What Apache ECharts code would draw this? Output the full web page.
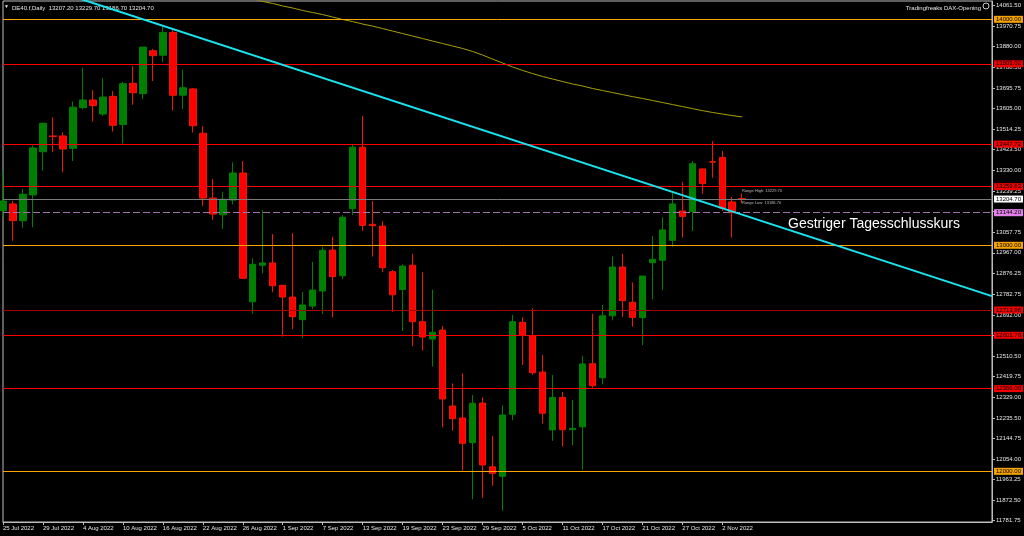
<!DOCTYPE html>
<html><head><meta charset="utf-8">
<script src="https://cdn.jsdelivr.net/npm/echarts@6/dist/echarts.min.js"></script>
<style>html,body{margin:0;padding:0;background:#000;}#c{width:1024px;height:536px;}</style>
</head><body><div id="c"></div>
<script>
// ---- data ----
const dates = [
 '25 Jul 2022','26 Jul 2022','27 Jul 2022','28 Jul 2022','29 Jul 2022',
 '1 Aug 2022','2 Aug 2022','3 Aug 2022','4 Aug 2022','5 Aug 2022','8 Aug 2022','9 Aug 2022','10 Aug 2022','11 Aug 2022','12 Aug 2022',
 '15 Aug 2022','16 Aug 2022','17 Aug 2022','18 Aug 2022','19 Aug 2022','22 Aug 2022','23 Aug 2022','24 Aug 2022','25 Aug 2022','26 Aug 2022',
 '29 Aug 2022','30 Aug 2022','31 Aug 2022','1 Sep 2022','2 Sep 2022','5 Sep 2022','6 Sep 2022','7 Sep 2022','8 Sep 2022','9 Sep 2022',
 '12 Sep 2022','13 Sep 2022','14 Sep 2022','15 Sep 2022','16 Sep 2022','19 Sep 2022','20 Sep 2022','21 Sep 2022','22 Sep 2022','23 Sep 2022',
 '26 Sep 2022','27 Sep 2022','28 Sep 2022','29 Sep 2022','30 Sep 2022','3 Oct 2022','4 Oct 2022','5 Oct 2022','6 Oct 2022','7 Oct 2022',
 '10 Oct 2022','11 Oct 2022','12 Oct 2022','13 Oct 2022','14 Oct 2022','17 Oct 2022','18 Oct 2022','19 Oct 2022','20 Oct 2022','21 Oct 2022',
 '24 Oct 2022','25 Oct 2022','26 Oct 2022','27 Oct 2022','28 Oct 2022','31 Oct 2022','1 Nov 2022','2 Nov 2022','3 Nov 2022','4 Nov 2022'
];
const opens  = [13153,13183,13109,13223,13414,13484,13484,13429,13609,13643,13581,13659,13534,13717,13671,13861,13841,13942,13664,13692,13496,13209,13135,13200,13320,
 12750,12912,12922,12823,12771,12671,12731,12798,12979,12865,13162,13434,13093,13085,12883,12804,12912,12662,12585,12625,12289,12236,12127,12302,12020,
 11978,12252,12659,12600,12439,12183,12327,12184,12197,12476,12414,12688,12904,12748,12680,12923,12934,13022,13152,13149,13338,13370,13389,13192,13207.2];
const closes = [13196,13109,13226,13431,13540,13481,13426,13611,13643,13618,13656,13531,13715,13675,13877,13839,13942,13664,13697,13529,13209,13138,13204,13320,12854,
 12916,12922,12821,12771,12684,12736,12802,12978,12861,13124,13434,13088,13087,12901,12781,12908,12662,12594,12615,12320,12233,12124,12301,12028,11991,
 12249,12662,12602,12436,12257,12327,12184,12190,12475,12379,12688,12904,12755,12681,12864,12938,13068,13183,13128,13361,13273,13368,13164,13144.2,13204.7];
const lows   = [13125,13020,13078,13080,13330,13412,13323,13373,13602,13547,13572,13503,13451,13622,13647,13727,13811,13597,13603,13500,13175,13113,13073,13181,12854,
 12697,12876,12792,12596,12628,12590,12718,12696,12681,12851,13134,13065,12950,12881,12706,12621,12554,12534,12463,12195,12180,12003,11876,11882,11936,
 11826,12226,12470,12427,12211,12135,12109,12115,12007,12370,12385,12668,12683,12640,12559,12761,12801,12994,13034,13063,13228,13299,13152,13034,13186.7];
const highs  = [13329,13196,13249,13442,13542,13566,13500,13637,13786,13687,13740,13683,13723,13793,13877,13869,13967,13954,13777,13696,13527,13293,13237,13367,13373,
 12942,13155,13050,12823,13054,12793,12926,12992,13038,13133,13447,13573,13196,13107,12891,12916,12962,12881,12804,12643,12389,12434,12338,12327,12156,
 12292,12692,12681,12721,12515,12426,12351,12315,12511,12697,12736,12950,12963,12836,12864,13041,13124,13235,13281,13373,13340,13461,13417,13214,13229.7];
// moving average (olive line), null where above the chart / not drawn
const maLine = [null,null,null,null,null,null,null,null,null,null,null,null,null,null,null,null,null,null,null,null,null,null,null,null,14101,
 14090,14079,14070,14059,14050,14039,14030,14021,14010,13999,13990,13979,13970,13959,13948,13937,13926,13915,13904,13893,13882,13871,13858,13842,13824,
 13807,13789,13774,13760,13747,13736,13725,13714,13705,13694,13685,13676,13667,13658,13650,13641,13632,13623,13614,13605,13596,13588,13581,13574,13568];
const trendLine = [[0,14202],[99,12775]];
const orangeLevels = [14000.00, 13000.00, 12000.00];
const redLevels = [13803.02, 13447.72, 13259.63, 12601.79, 12366.00];
const darkRedLevels = [12713.96];
const bidLevel = [13204.70];
const prevCloseLevel = [13144.20];
const yTicks = [14061.50,13970.75,13880.00,13788.50,13695.75,13605.00,13514.25,13423.50,13330.00,13239.25,13148.50,13057.75,12967.00,
 12876.25,12782.75,12692.00,12601.25,12510.50,12419.75,12329.00,12235.50,12144.75,12054.00,11963.25,11872.50,11781.75];
const headerText = 'DE40.f,Daily  13207.20 13229.70 13186.70 13204.70';
const brandText = 'Tradingfreaks DAX-Opening';
const noteText = 'Gestriger Tagesschlusskurs';
const rangeTexts = ['Range High: 13229.70', 'Range Low: 13186.70'];

// ---- build ----
const slots = 100;
const categories = dates.concat(new Array(slots - dates.length).fill(''));
const candles = opens.map((o, i) => [o, closes[i], lows[i], highs[i]]);
const showIdx = (i) => i < dates.length && i % 4 === 0;
const FONT = 'Liberation Sans';

function levelSeries(values, line, bg, dash, z) {
  return {
    type: 'line', data: [], z: z, silent: true,
    markLine: {
      symbol: 'none', silent: true, animation: false, precision: 2,
      lineStyle: {color: line, width: 1, type: dash || 'solid', opacity: 1},
      emphasis: {disabled: true},
      label: {show: true, position: 'end', distance: 2, formatter: p => Number(p.value).toFixed(2),
        backgroundColor: bg, color: '#000', fontSize: 6, fontFamily: FONT, padding: [1, 2, 0, 2]},
      data: values.map(v => ({yAxis: v}))
    }
  };
}

const chart = echarts.init(document.getElementById('c'), null, {renderer: 'canvas'});
chart.setOption({
  backgroundColor: '#000',
  animation: false,
  grid: {left: 2, right: 32, top: 1, bottom: 14, show: true, borderColor: '#bdbdbd', borderWidth: 1},
  xAxis: {
    type: 'category', data: categories, boundaryGap: false,
    axisLine: {show: true, lineStyle: {color: '#bdbdbd'}},
    axisTick: {show: true, interval: showIdx, length: 3, lineStyle: {color: '#bdbdbd'}},
    axisLabel: {interval: showIdx, align: 'left', color: '#e6e6e6', fontSize: 6, fontFamily: FONT, margin: 3, hideOverlap: false},
    splitLine: {show: false}
  },
  yAxis: {
    type: 'value', position: 'right', min: 11775.7, max: 14081,
    axisLine: {show: true, lineStyle: {color: '#bdbdbd'}},
    axisTick: {show: true, length: 3, customValues: yTicks, lineStyle: {color: '#bdbdbd'}},
    axisLabel: {customValues: yTicks, formatter: v => v.toFixed(2), color: '#e6e6e6', fontSize: 6, fontFamily: FONT, margin: 4},
    splitLine: {show: false}
  },
  series: [
    {
      type: 'candlestick', data: candles, barWidth: 7, z: 2,
      itemStyle: {color: '#008000', color0: '#ff0000', borderColor: '#008000', borderColor0: '#f01800', borderWidth: 1}
    },
    {
      type: 'line', data: maLine, symbol: 'none', z: 3, connectNulls: false,
      lineStyle: {color: '#a8a000', width: 1}
    },
    levelSeries(orangeLevels, '#ffa500', '#f5a300', null, 4),
    levelSeries(redLevels, '#ff0000', '#f00000', null, 4),
    levelSeries(darkRedLevels, '#a80000', '#f00000', null, 4),
    levelSeries(bidLevel, '#7a7a7a', '#ffffff', null, 4),
    levelSeries(prevCloseLevel, '#a070a8', '#e080e8', [7, 3], 4),
    {
      type: 'line', data: trendLine, symbol: 'none', z: 5, clip: true,
      lineStyle: {color: '#18e4f0', width: 2}
    }
  ],
  graphic: [
    {type: 'text', left: 4, top: 4, style: {text: '▼', fill: '#e6e6e6', fontSize: 5, fontFamily: FONT}},
    {type: 'text', left: 12, top: 5, style: {text: headerText, fill: '#e6e6e6', fontSize: 6, fontFamily: FONT}},
    {type: 'text', right: 43, top: 5, style: {text: brandText, fill: '#e6e6e6', fontSize: 6, fontFamily: FONT}},
    {type: 'circle', shape: {cx: 986, cy: 6, r: 3}, style: {fill: 'none', stroke: '#cfcfcf', lineWidth: 1}},
    {type: 'text', left: 788, top: 217, style: {text: noteText, fill: '#ffffff', fontSize: 14, fontFamily: FONT}},
    {type: 'text', left: 742, top: 189, style: {text: rangeTexts[0], fill: '#bdbdbd', fontSize: 4, fontFamily: FONT}},
    {type: 'text', left: 742, top: 201, style: {text: rangeTexts[1], fill: '#bdbdbd', fontSize: 4, fontFamily: FONT}}
  ]
});
</script></body></html>
